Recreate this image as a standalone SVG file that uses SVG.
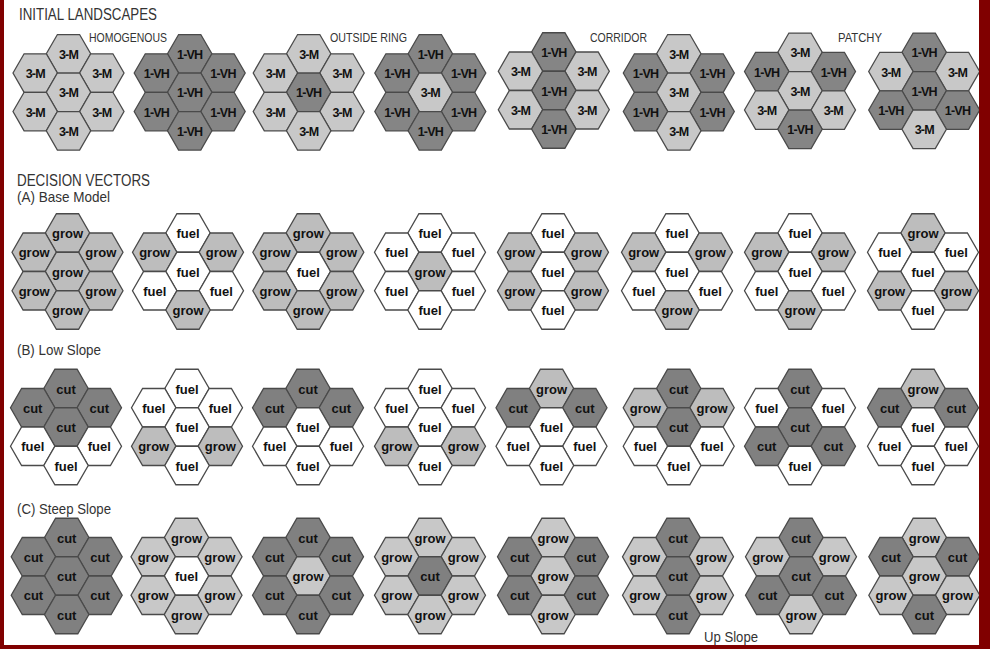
<svg xmlns="http://www.w3.org/2000/svg" xmlns:xlink="http://www.w3.org/1999/xlink" width="990" height="649" viewBox="0 0 990 649">
<style>
.l{fill:#c8c8c8}.d{fill:#858585}.g{fill:#bdbdbd}.c{fill:#808080}.f{fill:#ffffff}
.hx{stroke:#4a4a4a;stroke-width:1.3;stroke-linejoin:miter}
.uc text{font-family:"Liberation Sans",Arial,sans-serif;font-weight:bold;font-size:12.5px;letter-spacing:-0.8px;text-anchor:middle;fill:#111}
.lc text{font-family:"Liberation Sans",Arial,sans-serif;font-weight:bold;font-size:13px;text-anchor:middle;fill:#111}
.h1{font-family:"Liberation Sans",Arial,sans-serif;font-size:16px;fill:#333}
.h2{font-family:"Liberation Sans",Arial,sans-serif;font-size:14.5px;fill:#333}
.h3{font-family:"Liberation Sans",Arial,sans-serif;font-size:13px;fill:#333}
</style>
<defs>
<polygon id="hx" class="hx" points="-22.2,0 -11.1,-19.25 11.1,-19.25 22.2,0 11.1,19.25 -11.1,19.25"/>
</defs>
<rect x="0" y="0" width="990" height="649" fill="#ffffff"/>
<g id="labels">
<text class="h1" x="19" y="20" textLength="138" lengthAdjust="spacingAndGlyphs">INITIAL LANDSCAPES</text>
<text class="h3" x="89" y="42" textLength="78" lengthAdjust="spacingAndGlyphs">HOMOGENOUS</text>
<text class="h3" x="330" y="42" textLength="77" lengthAdjust="spacingAndGlyphs">OUTSIDE RING</text>
<text class="h3" x="590" y="42" textLength="57" lengthAdjust="spacingAndGlyphs">CORRIDOR</text>
<text class="h3" x="838" y="42" textLength="44" lengthAdjust="spacingAndGlyphs">PATCHY</text>
<text class="h1" x="17" y="185.5" textLength="133" lengthAdjust="spacingAndGlyphs">DECISION VECTORS</text>
<text class="h2" x="17" y="202" textLength="93" lengthAdjust="spacingAndGlyphs">(A) Base Model</text>
<text class="h2" x="17" y="355" textLength="84" lengthAdjust="spacingAndGlyphs">(B) Low Slope</text>
<text class="h2" x="17" y="514" textLength="94" lengthAdjust="spacingAndGlyphs">(C) Steep Slope</text>
<text class="h2" x="704" y="642" textLength="54" lengthAdjust="spacingAndGlyphs">Up Slope</text>
</g>
<g id="connectors"/>

<!-- Row 1: initial landscapes -->
<g id="r1c1" class="uc" transform="translate(68.5,92.3)">
<g id="r1c1T"><use href="#hx" class="l" y="-38.5"/><text y="-33.5">3-M</text></g>
<g id="r1c1UL"><use href="#hx" class="l" x="-33.3" y="-19.25"/><text x="-33.3" y="-14.25">3-M</text></g>
<g id="r1c1UR"><use href="#hx" class="l" x="33.3" y="-19.25"/><text x="33.3" y="-14.25">3-M</text></g>
<g id="r1c1C"><use href="#hx" class="l"/><text y="5">3-M</text></g>
<g id="r1c1LL"><use href="#hx" class="l" x="-33.3" y="19.25"/><text x="-33.3" y="24.25">3-M</text></g>
<g id="r1c1LR"><use href="#hx" class="l" x="33.3" y="19.25"/><text x="33.3" y="24.25">3-M</text></g>
<g id="r1c1B"><use href="#hx" class="l" y="38.5"/><text y="43.5">3-M</text></g>
</g>
<g id="r1c2" class="uc" transform="translate(189.7,92.3)">
<g id="r1c2T"><use href="#hx" class="d" y="-38.5"/><text y="-33.5">1-VH</text></g>
<g id="r1c2UL"><use href="#hx" class="d" x="-33.3" y="-19.25"/><text x="-33.3" y="-14.25">1-VH</text></g>
<g id="r1c2UR"><use href="#hx" class="d" x="33.3" y="-19.25"/><text x="33.3" y="-14.25">1-VH</text></g>
<g id="r1c2C"><use href="#hx" class="d"/><text y="5">1-VH</text></g>
<g id="r1c2LL"><use href="#hx" class="d" x="-33.3" y="19.25"/><text x="-33.3" y="24.25">1-VH</text></g>
<g id="r1c2LR"><use href="#hx" class="d" x="33.3" y="19.25"/><text x="33.3" y="24.25">1-VH</text></g>
<g id="r1c2B"><use href="#hx" class="d" y="38.5"/><text y="43.5">1-VH</text></g>
</g>
<g id="r1c3" class="uc" transform="translate(308.7,92.3)">
<g id="r1c3T"><use href="#hx" class="l" y="-38.5"/><text y="-33.5">3-M</text></g>
<g id="r1c3UL"><use href="#hx" class="l" x="-33.3" y="-19.25"/><text x="-33.3" y="-14.25">3-M</text></g>
<g id="r1c3UR"><use href="#hx" class="l" x="33.3" y="-19.25"/><text x="33.3" y="-14.25">3-M</text></g>
<g id="r1c3C"><use href="#hx" class="d"/><text y="5">1-VH</text></g>
<g id="r1c3LL"><use href="#hx" class="l" x="-33.3" y="19.25"/><text x="-33.3" y="24.25">3-M</text></g>
<g id="r1c3LR"><use href="#hx" class="l" x="33.3" y="19.25"/><text x="33.3" y="24.25">3-M</text></g>
<g id="r1c3B"><use href="#hx" class="l" y="38.5"/><text y="43.5">3-M</text></g>
</g>
<g id="r1c4" class="uc" transform="translate(430.3,92.3)">
<g id="r1c4T"><use href="#hx" class="d" y="-38.5"/><text y="-33.5">1-VH</text></g>
<g id="r1c4UL"><use href="#hx" class="d" x="-33.3" y="-19.25"/><text x="-33.3" y="-14.25">1-VH</text></g>
<g id="r1c4UR"><use href="#hx" class="d" x="33.3" y="-19.25"/><text x="33.3" y="-14.25">1-VH</text></g>
<g id="r1c4C"><use href="#hx" class="l"/><text y="5">3-M</text></g>
<g id="r1c4LL"><use href="#hx" class="d" x="-33.3" y="19.25"/><text x="-33.3" y="24.25">1-VH</text></g>
<g id="r1c4LR"><use href="#hx" class="d" x="33.3" y="19.25"/><text x="33.3" y="24.25">1-VH</text></g>
<g id="r1c4B"><use href="#hx" class="d" y="38.5"/><text y="43.5">1-VH</text></g>
</g>
<g id="r1c5" class="uc" transform="translate(553.8,90.5)">
<g id="r1c5T"><use href="#hx" class="d" y="-38.5"/><text y="-33.5">1-VH</text></g>
<g id="r1c5UL"><use href="#hx" class="l" x="-33.3" y="-19.25"/><text x="-33.3" y="-14.25">3-M</text></g>
<g id="r1c5UR"><use href="#hx" class="l" x="33.3" y="-19.25"/><text x="33.3" y="-14.25">3-M</text></g>
<g id="r1c5C"><use href="#hx" class="d"/><text y="5">1-VH</text></g>
<g id="r1c5LL"><use href="#hx" class="l" x="-33.3" y="19.25"/><text x="-33.3" y="24.25">3-M</text></g>
<g id="r1c5LR"><use href="#hx" class="l" x="33.3" y="19.25"/><text x="33.3" y="24.25">3-M</text></g>
<g id="r1c5B"><use href="#hx" class="d" y="38.5"/><text y="43.5">1-VH</text></g>
</g>
<g id="r1c6" class="uc" transform="translate(678.8,92.3)">
<g id="r1c6T"><use href="#hx" class="l" y="-38.5"/><text y="-33.5">3-M</text></g>
<g id="r1c6UL"><use href="#hx" class="d" x="-33.3" y="-19.25"/><text x="-33.3" y="-14.25">1-VH</text></g>
<g id="r1c6UR"><use href="#hx" class="d" x="33.3" y="-19.25"/><text x="33.3" y="-14.25">1-VH</text></g>
<g id="r1c6C"><use href="#hx" class="l"/><text y="5">3-M</text></g>
<g id="r1c6LL"><use href="#hx" class="d" x="-33.3" y="19.25"/><text x="-33.3" y="24.25">1-VH</text></g>
<g id="r1c6LR"><use href="#hx" class="d" x="33.3" y="19.25"/><text x="33.3" y="24.25">1-VH</text></g>
<g id="r1c6B"><use href="#hx" class="l" y="38.5"/><text y="43.5">3-M</text></g>
</g>
<g id="r1c7" class="uc" transform="translate(800,90.8)">
<g id="r1c7T"><use href="#hx" class="l" y="-38.5"/><text y="-33.5">3-M</text></g>
<g id="r1c7UL"><use href="#hx" class="d" x="-33.3" y="-19.25"/><text x="-33.3" y="-14.25">1-VH</text></g>
<g id="r1c7UR"><use href="#hx" class="d" x="33.3" y="-19.25"/><text x="33.3" y="-14.25">1-VH</text></g>
<g id="r1c7C"><use href="#hx" class="l"/><text y="5">3-M</text></g>
<g id="r1c7LL"><use href="#hx" class="l" x="-33.3" y="19.25"/><text x="-33.3" y="24.25">3-M</text></g>
<g id="r1c7LR"><use href="#hx" class="l" x="33.3" y="19.25"/><text x="33.3" y="24.25">3-M</text></g>
<g id="r1c7B"><use href="#hx" class="d" y="38.5"/><text y="43.5">1-VH</text></g>
</g>
<g id="r1c8" class="uc" transform="translate(924.2,90.8)">
<g id="r1c8T"><use href="#hx" class="d" y="-38.5"/><text y="-33.5">1-VH</text></g>
<g id="r1c8UL"><use href="#hx" class="l" x="-33.3" y="-19.25"/><text x="-33.3" y="-14.25">3-M</text></g>
<g id="r1c8UR"><use href="#hx" class="l" x="33.3" y="-19.25"/><text x="33.3" y="-14.25">3-M</text></g>
<g id="r1c8C"><use href="#hx" class="d"/><text y="5">1-VH</text></g>
<g id="r1c8LL"><use href="#hx" class="d" x="-33.3" y="19.25"/><text x="-33.3" y="24.25">1-VH</text></g>
<g id="r1c8LR"><use href="#hx" class="d" x="33.3" y="19.25"/><text x="33.3" y="24.25">1-VH</text></g>
<g id="r1c8B"><use href="#hx" class="l" y="38.5"/><text y="43.5">3-M</text></g>
</g>

<!-- Row A: base model -->
<g id="rAc1" class="lc" transform="translate(67.5,271.5)">
<g id="rAc1T"><use href="#hx" class="g" y="-38.5"/><text y="-33.5">grow</text></g>
<g id="rAc1UL"><use href="#hx" class="g" x="-33.3" y="-19.25"/><text x="-33.3" y="-14.25">grow</text></g>
<g id="rAc1UR"><use href="#hx" class="g" x="33.3" y="-19.25"/><text x="33.3" y="-14.25">grow</text></g>
<g id="rAc1C"><use href="#hx" class="g"/><text y="5">grow</text></g>
<g id="rAc1LL"><use href="#hx" class="g" x="-33.3" y="19.25"/><text x="-33.3" y="24.25">grow</text></g>
<g id="rAc1LR"><use href="#hx" class="g" x="33.3" y="19.25"/><text x="33.3" y="24.25">grow</text></g>
<g id="rAc1B"><use href="#hx" class="g" y="38.5"/><text y="43.5">grow</text></g>
</g>
<g id="rAc2" class="lc" transform="translate(188,271.5)">
<g id="rAc2T"><use href="#hx" class="f" y="-38.5"/><text y="-33.5">fuel</text></g>
<g id="rAc2UL"><use href="#hx" class="g" x="-33.3" y="-19.25"/><text x="-33.3" y="-14.25">grow</text></g>
<g id="rAc2UR"><use href="#hx" class="g" x="33.3" y="-19.25"/><text x="33.3" y="-14.25">grow</text></g>
<g id="rAc2C"><use href="#hx" class="f"/><text y="5">fuel</text></g>
<g id="rAc2LL"><use href="#hx" class="f" x="-33.3" y="19.25"/><text x="-33.3" y="24.25">fuel</text></g>
<g id="rAc2LR"><use href="#hx" class="f" x="33.3" y="19.25"/><text x="33.3" y="24.25">fuel</text></g>
<g id="rAc2B"><use href="#hx" class="g" y="38.5"/><text y="43.5">grow</text></g>
</g>
<g id="rAc3" class="lc" transform="translate(308.3,271.5)">
<g id="rAc3T"><use href="#hx" class="g" y="-38.5"/><text y="-33.5">grow</text></g>
<g id="rAc3UL"><use href="#hx" class="g" x="-33.3" y="-19.25"/><text x="-33.3" y="-14.25">grow</text></g>
<g id="rAc3UR"><use href="#hx" class="g" x="33.3" y="-19.25"/><text x="33.3" y="-14.25">grow</text></g>
<g id="rAc3C"><use href="#hx" class="f"/><text y="5">fuel</text></g>
<g id="rAc3LL"><use href="#hx" class="g" x="-33.3" y="19.25"/><text x="-33.3" y="24.25">grow</text></g>
<g id="rAc3LR"><use href="#hx" class="g" x="33.3" y="19.25"/><text x="33.3" y="24.25">grow</text></g>
<g id="rAc3B"><use href="#hx" class="g" y="38.5"/><text y="43.5">grow</text></g>
</g>
<g id="rAc4" class="lc" transform="translate(430,271.5)">
<g id="rAc4T"><use href="#hx" class="f" y="-38.5"/><text y="-33.5">fuel</text></g>
<g id="rAc4UL"><use href="#hx" class="f" x="-33.3" y="-19.25"/><text x="-33.3" y="-14.25">fuel</text></g>
<g id="rAc4UR"><use href="#hx" class="f" x="33.3" y="-19.25"/><text x="33.3" y="-14.25">fuel</text></g>
<g id="rAc4C"><use href="#hx" class="g"/><text y="5">grow</text></g>
<g id="rAc4LL"><use href="#hx" class="f" x="-33.3" y="19.25"/><text x="-33.3" y="24.25">fuel</text></g>
<g id="rAc4LR"><use href="#hx" class="f" x="33.3" y="19.25"/><text x="33.3" y="24.25">fuel</text></g>
<g id="rAc4B"><use href="#hx" class="f" y="38.5"/><text y="43.5">fuel</text></g>
</g>
<g id="rAc5" class="lc" transform="translate(553,271.5)">
<g id="rAc5T"><use href="#hx" class="f" y="-38.5"/><text y="-33.5">fuel</text></g>
<g id="rAc5UL"><use href="#hx" class="g" x="-33.3" y="-19.25"/><text x="-33.3" y="-14.25">grow</text></g>
<g id="rAc5UR"><use href="#hx" class="g" x="33.3" y="-19.25"/><text x="33.3" y="-14.25">grow</text></g>
<g id="rAc5C"><use href="#hx" class="f"/><text y="5">fuel</text></g>
<g id="rAc5LL"><use href="#hx" class="g" x="-33.3" y="19.25"/><text x="-33.3" y="24.25">grow</text></g>
<g id="rAc5LR"><use href="#hx" class="g" x="33.3" y="19.25"/><text x="33.3" y="24.25">grow</text></g>
<g id="rAc5B"><use href="#hx" class="f" y="38.5"/><text y="43.5">fuel</text></g>
</g>
<g id="rAc6" class="lc" transform="translate(677,271.5)">
<g id="rAc6T"><use href="#hx" class="f" y="-38.5"/><text y="-33.5">fuel</text></g>
<g id="rAc6UL"><use href="#hx" class="g" x="-33.3" y="-19.25"/><text x="-33.3" y="-14.25">grow</text></g>
<g id="rAc6UR"><use href="#hx" class="g" x="33.3" y="-19.25"/><text x="33.3" y="-14.25">grow</text></g>
<g id="rAc6C"><use href="#hx" class="f"/><text y="5">fuel</text></g>
<g id="rAc6LL"><use href="#hx" class="f" x="-33.3" y="19.25"/><text x="-33.3" y="24.25">fuel</text></g>
<g id="rAc6LR"><use href="#hx" class="f" x="33.3" y="19.25"/><text x="33.3" y="24.25">fuel</text></g>
<g id="rAc6B"><use href="#hx" class="g" y="38.5"/><text y="43.5">grow</text></g>
</g>
<g id="rAc7" class="lc" transform="translate(800,271.5)">
<g id="rAc7T"><use href="#hx" class="f" y="-38.5"/><text y="-33.5">fuel</text></g>
<g id="rAc7UL"><use href="#hx" class="g" x="-33.3" y="-19.25"/><text x="-33.3" y="-14.25">grow</text></g>
<g id="rAc7UR"><use href="#hx" class="g" x="33.3" y="-19.25"/><text x="33.3" y="-14.25">grow</text></g>
<g id="rAc7C"><use href="#hx" class="f"/><text y="5">fuel</text></g>
<g id="rAc7LL"><use href="#hx" class="f" x="-33.3" y="19.25"/><text x="-33.3" y="24.25">fuel</text></g>
<g id="rAc7LR"><use href="#hx" class="f" x="33.3" y="19.25"/><text x="33.3" y="24.25">fuel</text></g>
<g id="rAc7B"><use href="#hx" class="g" y="38.5"/><text y="43.5">grow</text></g>
</g>
<g id="rAc8" class="lc" transform="translate(923,271.5)">
<g id="rAc8T"><use href="#hx" class="g" y="-38.5"/><text y="-33.5">grow</text></g>
<g id="rAc8UL"><use href="#hx" class="f" x="-33.3" y="-19.25"/><text x="-33.3" y="-14.25">fuel</text></g>
<g id="rAc8UR"><use href="#hx" class="f" x="33.3" y="-19.25"/><text x="33.3" y="-14.25">fuel</text></g>
<g id="rAc8C"><use href="#hx" class="f"/><text y="5">fuel</text></g>
<g id="rAc8LL"><use href="#hx" class="g" x="-33.3" y="19.25"/><text x="-33.3" y="24.25">grow</text></g>
<g id="rAc8LR"><use href="#hx" class="g" x="33.3" y="19.25"/><text x="33.3" y="24.25">grow</text></g>
<g id="rAc8B"><use href="#hx" class="f" y="38.5"/><text y="43.5">fuel</text></g>
</g>

<!-- Row B: low slope -->
<g id="rBc1" class="lc" transform="translate(66,427)">
<g id="rBc1T"><use href="#hx" class="c" y="-38.5"/><text y="-33.5">cut</text></g>
<g id="rBc1UL"><use href="#hx" class="c" x="-33.3" y="-19.25"/><text x="-33.3" y="-14.25">cut</text></g>
<g id="rBc1UR"><use href="#hx" class="c" x="33.3" y="-19.25"/><text x="33.3" y="-14.25">cut</text></g>
<g id="rBc1C"><use href="#hx" class="c"/><text y="5">cut</text></g>
<g id="rBc1LL"><use href="#hx" class="f" x="-33.3" y="19.25"/><text x="-33.3" y="24.25">fuel</text></g>
<g id="rBc1LR"><use href="#hx" class="f" x="33.3" y="19.25"/><text x="33.3" y="24.25">fuel</text></g>
<g id="rBc1B"><use href="#hx" class="f" y="38.5"/><text y="43.5">fuel</text></g>
</g>
<g id="rBc2" class="lc" transform="translate(187,427)">
<g id="rBc2T"><use href="#hx" class="f" y="-38.5"/><text y="-33.5">fuel</text></g>
<g id="rBc2UL"><use href="#hx" class="f" x="-33.3" y="-19.25"/><text x="-33.3" y="-14.25">fuel</text></g>
<g id="rBc2UR"><use href="#hx" class="f" x="33.3" y="-19.25"/><text x="33.3" y="-14.25">fuel</text></g>
<g id="rBc2C"><use href="#hx" class="f"/><text y="5">fuel</text></g>
<g id="rBc2LL"><use href="#hx" class="g" x="-33.3" y="19.25"/><text x="-33.3" y="24.25">grow</text></g>
<g id="rBc2LR"><use href="#hx" class="g" x="33.3" y="19.25"/><text x="33.3" y="24.25">grow</text></g>
<g id="rBc2B"><use href="#hx" class="f" y="38.5"/><text y="43.5">fuel</text></g>
</g>
<g id="rBc3" class="lc" transform="translate(308,427)">
<g id="rBc3T"><use href="#hx" class="c" y="-38.5"/><text y="-33.5">cut</text></g>
<g id="rBc3UL"><use href="#hx" class="c" x="-33.3" y="-19.25"/><text x="-33.3" y="-14.25">cut</text></g>
<g id="rBc3UR"><use href="#hx" class="c" x="33.3" y="-19.25"/><text x="33.3" y="-14.25">cut</text></g>
<g id="rBc3C"><use href="#hx" class="f"/><text y="5">fuel</text></g>
<g id="rBc3LL"><use href="#hx" class="f" x="-33.3" y="19.25"/><text x="-33.3" y="24.25">fuel</text></g>
<g id="rBc3LR"><use href="#hx" class="f" x="33.3" y="19.25"/><text x="33.3" y="24.25">fuel</text></g>
<g id="rBc3B"><use href="#hx" class="f" y="38.5"/><text y="43.5">fuel</text></g>
</g>
<g id="rBc4" class="lc" transform="translate(430,427)">
<g id="rBc4T"><use href="#hx" class="f" y="-38.5"/><text y="-33.5">fuel</text></g>
<g id="rBc4UL"><use href="#hx" class="f" x="-33.3" y="-19.25"/><text x="-33.3" y="-14.25">fuel</text></g>
<g id="rBc4UR"><use href="#hx" class="f" x="33.3" y="-19.25"/><text x="33.3" y="-14.25">fuel</text></g>
<g id="rBc4C"><use href="#hx" class="f"/><text y="5">fuel</text></g>
<g id="rBc4LL"><use href="#hx" class="g" x="-33.3" y="19.25"/><text x="-33.3" y="24.25">grow</text></g>
<g id="rBc4LR"><use href="#hx" class="g" x="33.3" y="19.25"/><text x="33.3" y="24.25">grow</text></g>
<g id="rBc4B"><use href="#hx" class="f" y="38.5"/><text y="43.5">fuel</text></g>
</g>
<g id="rBc5" class="lc" transform="translate(551.5,427)">
<g id="rBc5T"><use href="#hx" class="g" y="-38.5"/><text y="-33.5">grow</text></g>
<g id="rBc5UL"><use href="#hx" class="c" x="-33.3" y="-19.25"/><text x="-33.3" y="-14.25">cut</text></g>
<g id="rBc5UR"><use href="#hx" class="c" x="33.3" y="-19.25"/><text x="33.3" y="-14.25">cut</text></g>
<g id="rBc5C"><use href="#hx" class="f"/><text y="5">fuel</text></g>
<g id="rBc5LL"><use href="#hx" class="f" x="-33.3" y="19.25"/><text x="-33.3" y="24.25">fuel</text></g>
<g id="rBc5LR"><use href="#hx" class="f" x="33.3" y="19.25"/><text x="33.3" y="24.25">fuel</text></g>
<g id="rBc5B"><use href="#hx" class="f" y="38.5"/><text y="43.5">fuel</text></g>
</g>
<g id="rBc6" class="lc" transform="translate(678.7,427)">
<g id="rBc6T"><use href="#hx" class="c" y="-38.5"/><text y="-33.5">cut</text></g>
<g id="rBc6UL"><use href="#hx" class="g" x="-33.3" y="-19.25"/><text x="-33.3" y="-14.25">grow</text></g>
<g id="rBc6UR"><use href="#hx" class="g" x="33.3" y="-19.25"/><text x="33.3" y="-14.25">grow</text></g>
<g id="rBc6C"><use href="#hx" class="c"/><text y="5">cut</text></g>
<g id="rBc6LL"><use href="#hx" class="f" x="-33.3" y="19.25"/><text x="-33.3" y="24.25">fuel</text></g>
<g id="rBc6LR"><use href="#hx" class="f" x="33.3" y="19.25"/><text x="33.3" y="24.25">fuel</text></g>
<g id="rBc6B"><use href="#hx" class="f" y="38.5"/><text y="43.5">fuel</text></g>
</g>
<g id="rBc7" class="lc" transform="translate(800,427)">
<g id="rBc7T"><use href="#hx" class="c" y="-38.5"/><text y="-33.5">cut</text></g>
<g id="rBc7UL"><use href="#hx" class="f" x="-33.3" y="-19.25"/><text x="-33.3" y="-14.25">fuel</text></g>
<g id="rBc7UR"><use href="#hx" class="f" x="33.3" y="-19.25"/><text x="33.3" y="-14.25">fuel</text></g>
<g id="rBc7C"><use href="#hx" class="c"/><text y="5">cut</text></g>
<g id="rBc7LL"><use href="#hx" class="c" x="-33.3" y="19.25"/><text x="-33.3" y="24.25">cut</text></g>
<g id="rBc7LR"><use href="#hx" class="c" x="33.3" y="19.25"/><text x="33.3" y="24.25">cut</text></g>
<g id="rBc7B"><use href="#hx" class="f" y="38.5"/><text y="43.5">fuel</text></g>
</g>
<g id="rBc8" class="lc" transform="translate(923,427)">
<g id="rBc8T"><use href="#hx" class="g" y="-38.5"/><text y="-33.5">grow</text></g>
<g id="rBc8UL"><use href="#hx" class="c" x="-33.3" y="-19.25"/><text x="-33.3" y="-14.25">cut</text></g>
<g id="rBc8UR"><use href="#hx" class="c" x="33.3" y="-19.25"/><text x="33.3" y="-14.25">cut</text></g>
<g id="rBc8C"><use href="#hx" class="f"/><text y="5">fuel</text></g>
<g id="rBc8LL"><use href="#hx" class="f" x="-33.3" y="19.25"/><text x="-33.3" y="24.25">fuel</text></g>
<g id="rBc8LR"><use href="#hx" class="f" x="33.3" y="19.25"/><text x="33.3" y="24.25">fuel</text></g>
<g id="rBc8B"><use href="#hx" class="f" y="38.5"/><text y="43.5">fuel</text></g>
</g>

<!-- Row C: steep slope -->
<g id="rCc1" class="lc" transform="translate(66.7,576)">
<g id="rCc1T"><use href="#hx" class="c" y="-38.5"/><text y="-33.5">cut</text></g>
<g id="rCc1UL"><use href="#hx" class="c" x="-33.3" y="-19.25"/><text x="-33.3" y="-14.25">cut</text></g>
<g id="rCc1UR"><use href="#hx" class="c" x="33.3" y="-19.25"/><text x="33.3" y="-14.25">cut</text></g>
<g id="rCc1C"><use href="#hx" class="c"/><text y="5">cut</text></g>
<g id="rCc1LL"><use href="#hx" class="c" x="-33.3" y="19.25"/><text x="-33.3" y="24.25">cut</text></g>
<g id="rCc1LR"><use href="#hx" class="c" x="33.3" y="19.25"/><text x="33.3" y="24.25">cut</text></g>
<g id="rCc1B"><use href="#hx" class="c" y="38.5"/><text y="43.5">cut</text></g>
</g>
<g id="rCc2" class="lc" transform="translate(186.5,576)">
<g id="rCc2T"><use href="#hx" class="l" y="-38.5"/><text y="-33.5">grow</text></g>
<g id="rCc2UL"><use href="#hx" class="l" x="-33.3" y="-19.25"/><text x="-33.3" y="-14.25">grow</text></g>
<g id="rCc2UR"><use href="#hx" class="l" x="33.3" y="-19.25"/><text x="33.3" y="-14.25">grow</text></g>
<g id="rCc2C"><use href="#hx" class="f"/><text y="5">fuel</text></g>
<g id="rCc2LL"><use href="#hx" class="l" x="-33.3" y="19.25"/><text x="-33.3" y="24.25">grow</text></g>
<g id="rCc2LR"><use href="#hx" class="l" x="33.3" y="19.25"/><text x="33.3" y="24.25">grow</text></g>
<g id="rCc2B"><use href="#hx" class="l" y="38.5"/><text y="43.5">grow</text></g>
</g>
<g id="rCc3" class="lc" transform="translate(308,576)">
<g id="rCc3T"><use href="#hx" class="c" y="-38.5"/><text y="-33.5">cut</text></g>
<g id="rCc3UL"><use href="#hx" class="c" x="-33.3" y="-19.25"/><text x="-33.3" y="-14.25">cut</text></g>
<g id="rCc3UR"><use href="#hx" class="c" x="33.3" y="-19.25"/><text x="33.3" y="-14.25">cut</text></g>
<g id="rCc3C"><use href="#hx" class="l"/><text y="5">grow</text></g>
<g id="rCc3LL"><use href="#hx" class="c" x="-33.3" y="19.25"/><text x="-33.3" y="24.25">cut</text></g>
<g id="rCc3LR"><use href="#hx" class="c" x="33.3" y="19.25"/><text x="33.3" y="24.25">cut</text></g>
<g id="rCc3B"><use href="#hx" class="c" y="38.5"/><text y="43.5">cut</text></g>
</g>
<g id="rCc4" class="lc" transform="translate(430,576)">
<g id="rCc4T"><use href="#hx" class="l" y="-38.5"/><text y="-33.5">grow</text></g>
<g id="rCc4UL"><use href="#hx" class="l" x="-33.3" y="-19.25"/><text x="-33.3" y="-14.25">grow</text></g>
<g id="rCc4UR"><use href="#hx" class="l" x="33.3" y="-19.25"/><text x="33.3" y="-14.25">grow</text></g>
<g id="rCc4C"><use href="#hx" class="c"/><text y="5">cut</text></g>
<g id="rCc4LL"><use href="#hx" class="l" x="-33.3" y="19.25"/><text x="-33.3" y="24.25">grow</text></g>
<g id="rCc4LR"><use href="#hx" class="l" x="33.3" y="19.25"/><text x="33.3" y="24.25">grow</text></g>
<g id="rCc4B"><use href="#hx" class="l" y="38.5"/><text y="43.5">grow</text></g>
</g>
<g id="rCc5" class="lc" transform="translate(553,576)">
<g id="rCc5T"><use href="#hx" class="l" y="-38.5"/><text y="-33.5">grow</text></g>
<g id="rCc5UL"><use href="#hx" class="c" x="-33.3" y="-19.25"/><text x="-33.3" y="-14.25">cut</text></g>
<g id="rCc5UR"><use href="#hx" class="c" x="33.3" y="-19.25"/><text x="33.3" y="-14.25">cut</text></g>
<g id="rCc5C"><use href="#hx" class="l"/><text y="5">grow</text></g>
<g id="rCc5LL"><use href="#hx" class="c" x="-33.3" y="19.25"/><text x="-33.3" y="24.25">cut</text></g>
<g id="rCc5LR"><use href="#hx" class="c" x="33.3" y="19.25"/><text x="33.3" y="24.25">cut</text></g>
<g id="rCc5B"><use href="#hx" class="l" y="38.5"/><text y="43.5">grow</text></g>
</g>
<g id="rCc6" class="lc" transform="translate(678,576)">
<g id="rCc6T"><use href="#hx" class="c" y="-38.5"/><text y="-33.5">cut</text></g>
<g id="rCc6UL"><use href="#hx" class="l" x="-33.3" y="-19.25"/><text x="-33.3" y="-14.25">grow</text></g>
<g id="rCc6UR"><use href="#hx" class="l" x="33.3" y="-19.25"/><text x="33.3" y="-14.25">grow</text></g>
<g id="rCc6C"><use href="#hx" class="c"/><text y="5">cut</text></g>
<g id="rCc6LL"><use href="#hx" class="l" x="-33.3" y="19.25"/><text x="-33.3" y="24.25">grow</text></g>
<g id="rCc6LR"><use href="#hx" class="l" x="33.3" y="19.25"/><text x="33.3" y="24.25">grow</text></g>
<g id="rCc6B"><use href="#hx" class="c" y="38.5"/><text y="43.5">cut</text></g>
</g>
<g id="rCc7" class="lc" transform="translate(801,576)">
<g id="rCc7T"><use href="#hx" class="c" y="-38.5"/><text y="-33.5">cut</text></g>
<g id="rCc7UL"><use href="#hx" class="l" x="-33.3" y="-19.25"/><text x="-33.3" y="-14.25">grow</text></g>
<g id="rCc7UR"><use href="#hx" class="l" x="33.3" y="-19.25"/><text x="33.3" y="-14.25">grow</text></g>
<g id="rCc7C"><use href="#hx" class="c"/><text y="5">cut</text></g>
<g id="rCc7LL"><use href="#hx" class="c" x="-33.3" y="19.25"/><text x="-33.3" y="24.25">cut</text></g>
<g id="rCc7LR"><use href="#hx" class="c" x="33.3" y="19.25"/><text x="33.3" y="24.25">cut</text></g>
<g id="rCc7B"><use href="#hx" class="l" y="38.5"/><text y="43.5">grow</text></g>
</g>
<g id="rCc8" class="lc" transform="translate(924.3,576)">
<g id="rCc8T"><use href="#hx" class="l" y="-38.5"/><text y="-33.5">grow</text></g>
<g id="rCc8UL"><use href="#hx" class="c" x="-33.3" y="-19.25"/><text x="-33.3" y="-14.25">cut</text></g>
<g id="rCc8UR"><use href="#hx" class="c" x="33.3" y="-19.25"/><text x="33.3" y="-14.25">cut</text></g>
<g id="rCc8C"><use href="#hx" class="l"/><text y="5">grow</text></g>
<g id="rCc8LL"><use href="#hx" class="l" x="-33.3" y="19.25"/><text x="-33.3" y="24.25">grow</text></g>
<g id="rCc8LR"><use href="#hx" class="l" x="33.3" y="19.25"/><text x="33.3" y="24.25">grow</text></g>
<g id="rCc8B"><use href="#hx" class="c" y="38.5"/><text y="43.5">cut</text></g>
</g>

<g id="frame" fill="#800000">
<rect x="0" y="0" width="4" height="649"/>
<rect x="979" y="0" width="11" height="649"/>
<rect x="0" y="645" width="990" height="4"/>
</g>
</svg>
